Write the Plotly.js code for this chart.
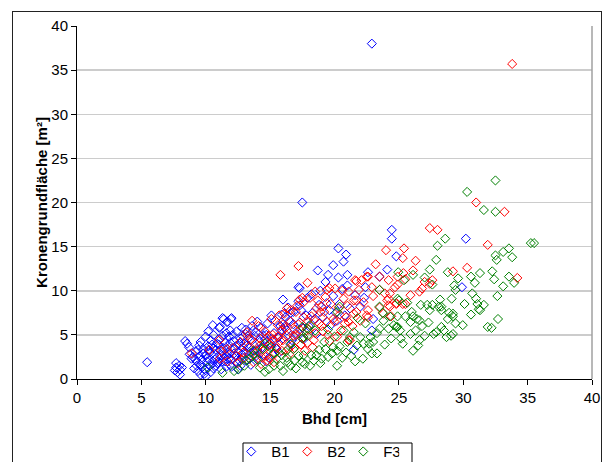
<!DOCTYPE html>
<html>
<head>
<meta charset="utf-8">
<script src="https://cdn.plot.ly/plotly-3.0.1.min.js"></script>
<style>
  html, body { margin:0; padding:0; background:#fff; }
  #wrap { position:relative; width:605px; height:462px; overflow:hidden; }
  #chart { position:absolute; left:0; top:0; width:605px; height:462px; }
  #frame { position:absolute; left:12px; top:11px; width:590px; height:470px; border:1.5px solid #222; pointer-events:none; box-sizing:border-box; }
</style>
</head>
<body>
<div id="wrap"><div id="chart"></div><div id="frame"></div></div>
<script>
// Series names
const seriesNames = ["B1", "B2", "F3"];

// B1 points [Bhd cm, Kronengrundfläche m²]
const B1_points = [
 [22.9,38.0],[17.5,20.0],[24.45,16.9],[24.45,15.9],[24.8,13.9],[20.3,14.8],[20.9,14.1],[20.7,13.3],
 [18.7,12.3],[19.9,12.9],[19.5,11.8],[24.1,12.4],[23.5,11.6],[22.6,12.1],[22.9,5.5],[21.5,3.3],
 [21.0,11.8],[21.0,10.6],[22.4,10.4],[22.0,8.2],[30.2,15.9],[29.9,10.4],[17.3,10.3],[16.0,9.0],
 [17.2,10.4],[15.1,7.2],[15.9,7.3],[16.6,7.5],[16.8,7.6],[17.3,8.35],[5.45,1.9],
 [7.7,1.8],[7.95,1.5],[7.7,1.3],[8.0,1.05],[7.8,0.77],[8.0,0.5],[8.15,1.3],[7.6,0.97],
 [8.4,4.3],[8.55,4.0],[8.7,3.6],[8.75,2.8],[8.9,2.3],[10.2,5.4],[10.55,6.1],[11.1,5.9],[11.3,6.9],
 [11.7,6.5],[11.4,6.8],[12.0,6.9],[11.9,5.5],[11.95,6.8],[11.65,6.45],[11.05,5.8],[13.1,5.6],
 [9.1,1.2],[9.3,2.0],[9.5,2.6],[9.2,3.1],[9.6,1.6],[9.8,3.4],[9.4,0.9],[9.7,2.2],[9.9,1.1],[9.0,2.5],
 [9.5,3.8],[9.8,2.9],[9.3,1.5],[9.6,4.2],[9.9,0.6],[9.6,0.5],[10.0,0.3],
 [10.0,1.0],[10.1,2.4],[10.3,3.0],[10.5,1.7],[10.2,3.7],[10.7,2.2],[10.4,4.4],[10.8,3.3],[10.6,1.2],
 [10.9,4.0],[10.0,4.8],[10.3,1.5],[10.7,2.8],[10.5,3.9],[10.1,2.0],[10.8,1.5],[10.4,0.8],[10.6,5.0],
 [10.9,2.5],[10.2,3.3],
 [11.0,1.9],[11.2,2.7],[11.4,3.5],[11.6,1.4],[11.1,4.5],[11.8,2.3],[11.3,3.1],[11.5,4.1],[11.7,3.7],
 [11.9,2.9],[11.2,1.1],[11.5,2.0],[11.8,4.8],[11.0,3.9],[11.6,5.2],[11.4,2.4],[11.9,1.6],[11.3,4.9],[11.7,3.0],
 [12.0,2.2],[12.2,3.4],[12.4,1.8],[12.6,4.0],[12.8,2.8],[12.1,5.0],[12.5,3.0],[12.7,4.6],[12.3,2.6],
 [12.9,3.6],[12.4,5.4],[12.0,1.4],[12.6,2.1],[12.8,5.8],[12.2,4.3],[12.5,1.1],[12.9,2.4],
 [13.0,2.9],[13.2,3.8],[13.4,2.3],[13.6,4.4],[13.8,3.2],[13.1,5.1],[13.5,1.6],[13.7,5.5],[13.3,4.6],
 [13.9,2.6],[13.4,3.5],[13.0,4.0],[13.6,6.0],[13.8,4.9],
 [14.0,3.3],[14.2,4.2],[14.5,2.7],[14.7,5.0],[14.3,5.8],[14.9,3.9],[14.1,2.2],[14.6,4.5],[14.8,6.3],
 [14.4,3.6],[14.0,6.5],[14.7,2.0],
 [15.0,4.1],[15.3,5.2],[15.5,3.4],[15.8,6.0],[15.2,2.8],[15.6,4.7],[15.9,5.6],[15.4,6.6],[15.1,3.7],
 [16.0,4.6],[16.3,5.5],[16.6,3.9],[16.8,6.2],[16.2,7.0],[16.5,6.6],[16.9,4.8],[16.4,8.1],
 [17.0,5.2],[17.3,6.4],[17.6,4.5],[17.8,7.2],[17.2,8.8],[17.5,5.8],[17.9,9.2],[17.4,7.8],
 [18.0,6.0],[18.3,7.5],[18.6,5.1],[18.8,8.4],[18.2,9.6],[18.5,6.8],[18.9,10.0],
 [19.1,7.0],[19.4,8.6],[19.7,6.1],[19.9,9.4],[19.3,11.0],[19.6,7.8],
 [20.1,7.5],[20.4,8.5],[20.2,6.6],[20.6,10.2],[20.8,7.2],[20.3,11.5],[21.2,8.0],[21.6,9.5],[23.0,6.8],[22.3,9.2],
 [9.2,2.2],[9.4,3.3],[9.7,1.3],[10.0,2.7],[10.3,2.1],[10.6,3.5],[10.9,1.8],[11.1,3.3],[11.3,2.0],
 [11.6,2.6],[11.9,4.1],[12.2,2.9],[12.4,3.8],[12.7,1.5],[12.9,4.8],[13.2,2.1],[13.5,3.0],[13.9,5.3],
 [14.2,2.9],[14.5,4.9],[14.9,2.4],[15.3,4.4],[15.7,3.0],[16.1,5.9],[16.7,4.4]
];

// B2 points
const B2_points = [
 [33.8,35.7],[31.0,20.0],[27.4,17.1],[28.0,16.9],[25.4,14.8],[24.0,14.6],[25.3,13.7],[26.3,13.4],
 [23.2,13.0],[17.2,12.8],[15.8,11.8],[17.9,10.9],[26.1,12.3],[23.5,11.6],[22.6,11.6],[21.7,11.1],
 [17.5,9.2],[19.6,10.3],[23.5,10.1],[24.7,10.4],[26.6,9.9],[27.4,10.8],[27.6,11.2],[25.35,12.0],
 [25.5,8.5],[24.1,8.9],[24.2,8.35],[22.6,7.8],[22.25,8.7],[21.5,8.9],[22.6,7.0],[21.1,4.4],
 [20.8,6.3],[21.5,7.4],[24.2,11.2],[24.9,11.6],[23.9,9.7],[24.8,8.6],[24.3,8.2],[23.5,8.1],
 [24.2,9.1],[22.5,11.6],[22.1,11.2],[21.6,11.2],[22.9,10.4],[21.9,10.1],[21.1,9.9],[20.05,10.25],
 [19.4,10.1],[18.5,9.9],[21.7,8.9],[21.7,7.6],[22.5,7.2],[21.1,6.45],[21.2,4.4],[31.9,15.2],
 [30.3,12.6],[29.2,12.2],[25.5,11.3],[27.0,11.0],[26.8,10.25],[24.9,10.7],[24.3,9.7],[25.3,8.5],
 [24.4,7.1],[33.2,18.95],[34.2,11.45],[13.6,6.6],[8.9,2.9],[11.05,4.4],[10.3,3.3],[11.2,3.2],
 [11.1,2.3],[13.25,4.9],[11.7,2.0],[11.65,3.4],[24.8,8.5],
 [12.1,3.5],[12.4,2.6],[12.7,4.2],[12.9,3.0],[12.5,1.8],
 [13.0,2.4],[13.3,3.6],[13.5,4.5],[13.8,2.9],[13.2,5.3],[13.7,1.9],[13.9,4.0],
 [14.0,3.1],[14.2,4.6],[14.4,2.4],[14.6,5.4],[14.8,3.7],[14.1,6.0],[14.5,3.3],[14.9,4.9],[14.3,1.7],[14.7,2.6],
 [15.0,3.9],[15.2,5.0],[15.4,2.9],[15.6,6.1],[15.8,4.3],[15.1,6.8],[15.5,3.5],[15.9,5.5],[15.3,1.9],
 [15.7,7.2],[15.0,2.3],[15.6,4.8],
 [16.0,4.4],[16.2,5.8],[16.4,3.4],[16.6,6.5],[16.8,4.9],[16.1,7.4],[16.5,2.8],[16.9,5.6],[16.3,8.0],
 [16.7,3.8],[16.0,6.2],[16.6,7.8],
 [17.0,5.0],[17.2,6.2],[17.4,3.9],[17.6,7.0],[17.8,5.5],[17.1,8.3],[17.5,4.6],[17.9,6.6],[17.3,9.0],
 [17.7,3.2],[17.0,7.6],[17.6,8.7],
 [18.0,5.6],[18.2,7.1],[18.4,4.4],[18.6,8.0],[18.8,6.3],[18.1,9.2],[18.5,5.2],[18.9,7.6],[18.3,3.6],[18.7,8.9],
 [19.0,6.0],[19.2,7.6],[19.5,5.0],[19.7,8.5],[19.9,6.8],[19.3,9.3],[19.6,4.3],[19.1,5.4],
 [20.0,6.5],[20.3,8.0],[20.5,5.5],[20.7,9.1],[20.9,7.0],[20.2,4.8],[20.6,10.0],
 [14.2,3.8],[14.8,2.1],[15.2,4.5],[15.9,3.2],[16.3,4.9],[16.9,3.5],[17.3,5.6],[17.9,4.1],[18.4,6.7],
 [19.0,8.2],[19.4,6.5],[20.4,7.3],[21.0,8.3],[21.4,6.0],[22.0,6.6],[23.0,9.4],[23.8,7.4],[25.9,9.5]
];

// F3 points
const F3_points = [
 [30.3,21.2],[31.6,19.15],[32.5,22.5],[32.5,18.95],[28.6,15.9],[28.0,15.1],[27.9,13.5],[27.4,12.4],
 [28.8,12.1],[29.6,11.4],[30.6,11.6],[31.3,12.0],[30.9,10.9],[27.0,11.5],[27.6,10.7],[26.1,11.8],
 [25.4,11.2],[24.95,12.1],[29.3,10.6],[29.4,10.1],[29.1,9.1],[28.2,9.0],[30.7,9.7],[31.0,9.1],
 [31.1,8.5],[31.6,8.4],[30.1,8.5],[31.2,7.9],[30.6,7.3],[26.7,8.4],[27.2,8.4],[27.6,8.4],[28.1,8.2],
 [28.3,8.2],[27.4,7.8],[28.3,7.8],[28.9,7.5],[29.2,7.4],[29.2,7.1],[25.0,8.9],[25.65,8.65],[24.9,7.1],
 [25.5,7.1],[26.0,7.6],[26.1,7.1],[25.9,6.45],[26.4,6.8],[26.6,6.65],[26.8,6.0],[27.3,6.4],[27.9,5.3],
 [27.7,5.1],[28.3,5.9],[28.5,5.5],[28.7,4.75],[29.05,4.9],[29.2,5.1],[29.4,6.3],[29.96,6.1],[24.6,6.1],
 [24.9,5.9],[25.1,5.5],[25.15,4.6],[25.3,4.0],[25.9,5.1],[26.1,3.2],[26.6,4.4],[26.5,3.8],[27.0,4.9],
 [31.9,5.9],[35.25,15.4],[35.5,15.4],[33.55,14.8],[33.1,14.4],[32.5,14.0],[32.6,13.5],[33.8,13.8],
 [32.25,12.2],[32.4,11.3],[33.55,11.6],[33.95,10.9],[33.1,10.5],[32.65,9.4],[31.3,7.8],[32.7,6.8],
 [32.2,5.8],[23.5,10.1],[24.9,9.1],[23.5,8.2],[24.3,7.1],[23.75,7.5],[24.8,5.9],[24.2,5.7],[23.5,5.7],
 [23.3,5.2],[22.8,4.75],[23.0,4.2],[22.7,4.0],[22.0,4.75],[22.25,4.0],[21.75,3.8],[22.9,2.9],[23.3,2.9],
 [22.2,2.3],[21.2,4.75],[21.0,4.2],[20.4,3.7],[20.2,3.2],[19.8,2.9],[20.2,1.5],[19.5,2.5],[19.0,2.3],
 [18.6,2.7],[18.4,2.1],[18.1,1.5],[17.7,1.7],[17.5,1.9],[18.2,2.7],[19.9,3.6],[20.7,5.5],[20.2,7.6],
 [20.4,8.2],[18.1,6.1],[18.5,5.5],[17.9,5.7],[17.6,4.75],
 [10.15,1.3],[11.3,0.7],[12.55,1.1],[13.1,2.1],[13.7,3.2],[14.0,2.2],[14.2,1.3],[14.6,0.8],[15.3,1.5],
 [15.8,1.5],[16.6,1.5],[16.9,2.1],[17.2,2.6],[17.6,2.7],[17.5,5.9],[14.4,3.4],[14.6,4.0],[13.7,2.7],
 [13.4,2.3],[15.3,2.9],[15.5,2.3],[16.3,2.4],[16.6,4.0],[16.8,3.4],[17.5,4.6],[17.9,4.9],
 [19.2,4.2],[20.0,4.8],[21.5,5.3],[22.4,6.3],[23.8,6.6],[21.8,6.9],[19.5,5.6],[18.8,3.3],[16.2,3.1],
 [15.0,3.6],[13.0,1.5],[12.2,0.9],[16.0,0.9],[20.6,2.4],[21.6,2.0],[23.9,3.9],[24.4,4.6],[26.3,5.5],[28.8,6.8],
 [14.9,1.1],[15.9,2.7],[16.4,1.9],[17.0,1.2],[18.9,1.8],[19.3,3.4],[20.9,3.0],[21.3,2.6],[22.6,3.4]
];

const seriesColors = ["#0000FF", "#FF0000", "#008000"];

// Axis ticks
const xTicks = [0,5,10,15,20,25,30,35,40];
const yTicks = [0,5,10,15,20,25,30,35,40];

const allSeries = [B1_points, B2_points, F3_points];
const traces = allSeries.map((pts, i) => ({
  type: "scatter",
  mode: "markers",
  name: seriesNames[i],
  x: pts.map(p => p[0]),
  y: pts.map(p => p[1]),
  marker: { symbol: "diamond-open", size: 7, color: seriesColors[i], line: { width: 1, color: seriesColors[i] } },
  hoverinfo: "x+y+name"
}));

const font = "Liberation Sans, Arial, sans-serif";

const layout = {
  width: 605, height: 462,
  paper_bgcolor: "#ffffff", plot_bgcolor: "#ffffff",
  margin: { l: 77, r: 13, t: 26, b: 83, pad: 0 },
  showlegend: true,
  font: { family: font, size: 15, color: "#000" },
  xaxis: {
    range: [0, 40], tickmode: "array", tickvals: xTicks, ticktext: xTicks.map(String),
    showgrid: false, zeroline: false, showline: true, linecolor: "#000", linewidth: 1,
    ticks: "outside", ticklen: 5, tickcolor: "#000", tickwidth: 1,
    tickfont: { family: font, size: 15, color: "#000" },
    title: { text: "Bhd [cm]", font: { family: font, size: 15, color: "#000", weight: "bold" }, standoff: 8 },
    fixedrange: true, automargin: false
  },
  yaxis: {
    range: [0, 40], tickmode: "array", tickvals: yTicks, ticktext: yTicks.map(String),
    showgrid: true, gridcolor: "#cccccc", gridwidth: 1.5,
    zeroline: false, showline: true, linecolor: "#000", linewidth: 1,
    ticks: "outside", ticklen: 5, tickcolor: "#000", tickwidth: 1,
    tickfont: { family: font, size: 15, color: "#000" },
    title: { text: "Kronengrundfläche [m²]", font: { family: font, size: 15, color: "#000", weight: "bold" }, standoff: 0 },
    fixedrange: true, automargin: false
  },
  shapes: [
    { type: "line", xref: "paper", yref: "paper", x0: 1, x1: 1, y0: 0, y1: 1, line: { color: "#a0a0a0", width: 1.5 } },
    // legend frame
    { type: "rect", xref: "paper", yref: "paper", x0: 0.3223, x1: 0.6505, y0: -0.1813, y1: -0.30,
      line: { color: "#000", width: 1 }, fillcolor: "rgba(0,0,0,0)", layer: "below" }
  ],
  legend: {
    orientation: "h", xref: "container", yref: "container",
    x: 0.521, xanchor: "center", y: 0.058, yanchor: "top",
    borderwidth: 0, bgcolor: "rgba(0,0,0,0)",
    font: { family: font, size: 15, color: "#000" },
    itemwidth: 30, entrywidth: 11, entrywidthmode: "pixels", tracegroupgap: 0
  }
};

Plotly.newPlot("chart", traces, layout, { displayModeBar: false, staticPlot: true });
</script>
</body>
</html>
